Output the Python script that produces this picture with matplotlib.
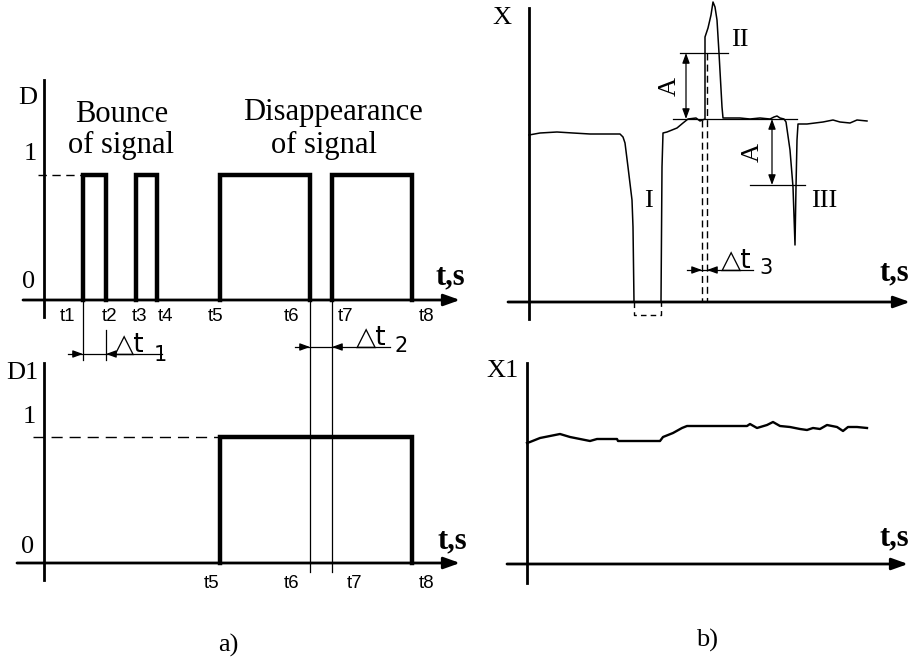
import matplotlib.pyplot as plt
import numpy as np

plt.rcParams['font.family'] = ['Liberation Serif', 'DejaVu Sans']

# ---------- a) discrete signal D and debounced signal D1 ----------
t_names = ['t1', 't2', 't3', 't4', 't5', 't6', 't7', 't8']
t_edges = [3.9, 6.2, 9.2, 11.3, 17.6, 26.6, 28.8, 36.8]
D_pulses = [(0, 1), (2, 3), (4, 5), (6, 7)]      # (rise, fall) edge indices
D1_pulse = (4, 7)
D1_names = ['t5', 't6', 't7', 't8']
high = 1

# ---------- b) analog signal X and filtered X1 ----------
x_time = [0, 1.1, 2.8, 4.4, 6.1, 7.8, 9.1, 9.4, 9.6, 9.9, 10.3, 10.4, 10.5,
          13.2, 13.3, 13.4, 13.8, 14.8, 15.4, 15.9, 16.7, 17.1, 17.6, 17.6,
          17.9, 18.2, 18.4, 18.6, 18.8, 19.0, 19.3, 19.4, 21.1, 22.1, 23.1,
          24.1, 24.5, 24.8, 25.1, 25.5, 25.7, 26.1, 26.4, 26.6, 26.7, 26.8,
          26.9, 27.8, 28.6, 29.4, 30.4, 31.1, 32.1, 32.8, 33.8]
x_value = [16.7, 16.9, 17.0, 16.9, 16.8, 16.8, 16.8, 16.5, 15.9, 13.5, 10.2, 7.5, 0,
           0, 13.5, 16.9, 17.0, 17.4, 17.9, 18.3, 18.4, 18.1, 18.3, 26.5,
           27.4, 28.7, 30.0, 29.5, 28.2, 24.9, 19.5, 18.4, 18.4, 18.3, 18.4,
           18.3, 18.5, 18.6, 18.4, 18.3, 18.0, 15.2, 11.5, 5.7, 11.5, 16.2,
           17.8, 17.8, 17.9, 18.0, 18.2, 18.0, 17.9, 18.2, 18.1]
dropout = (10.5, 13.2)
x_base = 18.3
A = 6.6
dt3 = (17.3, 17.8)

x1_time = [0, 0.3, 1.3, 2.3, 3.3, 4.3, 5.3, 6.3, 7.0, 9.0, 9.1, 13.3, 13.6,
           14.6, 15.5, 16.0, 22.0, 22.3, 23.0, 24.0, 24.6, 25.3, 26.3, 27.3,
           28.0, 28.6, 29.3, 30.0, 31.0, 31.6, 32.1, 33.0, 34.0]
x1_value = [12.1, 12.2, 12.6, 12.8, 13.0, 12.7, 12.5, 12.3, 12.5, 12.5, 12.3, 12.3, 12.7,
            13.1, 13.6, 13.8, 13.8, 14.0, 13.6, 13.9, 14.2, 13.8, 13.7, 13.5,
            13.4, 13.6, 13.5, 13.9, 13.7, 13.3, 13.7, 13.7, 13.6]

W, H = 918, 660
fig = plt.figure(figsize=(W / 100, H / 100), dpi=100)


def panel(px0, py0, sx, sy):
    # full-figure axes whose origin sits at pixel (px0, py0)
    ax = fig.add_axes([0, 0, 1, 1])
    ax.set_xlim(-px0 / sx, (W - px0) / sx)
    ax.set_ylim((py0 - H) / sy, py0 / sy)
    ax.axis('off')
    ax.patch.set_visible(False)
    return ax


def ftext(px, py, s, **kw):
    fig.text(px / W, 1 - py / H, s, **kw)


def draw_axes(ax, x0, x1, y0, y1):
    ax.annotate('', xy=(x1, 0), xytext=(x0, 0),
                arrowprops=dict(arrowstyle='-|>,head_length=0.7,head_width=0.25',
                                lw=2, color='k', shrinkA=0, shrinkB=0,
                                mutation_scale=14))
    ax.plot([0, 0], [y0, y1], color='k', lw=2)


def dim_arrow(ax, x_from, x_to, y, style='-|>'):
    ax.annotate('', xy=(x_to, y), xytext=(x_from, y),
                arrowprops=dict(arrowstyle=style + ',head_length=0.6,head_width=0.22',
                                lw=0.9, color='k', shrinkA=0, shrinkB=0,
                                mutation_scale=10))


def delta_label(ax, x, y, sub, dx, dy):
    ax.text(x, y, '\u25b3t', family='DejaVu Sans', fontsize=19, va='baseline')
    ax.text(x + dx, y + dy, sub, family='DejaVu Sans', fontsize=15, va='baseline')


# ---------- panel a) top: D ----------
axD = panel(44, 300, 10, 125)
draw_axes(axD, -2.1, 41.6, -0.136, 1.76)
for a, b in D_pulses:
    axD.plot([t_edges[a], t_edges[a], t_edges[b], t_edges[b]], [0, high, high, 0],
             color='k', lw=3.2, solid_joinstyle='miter')
axD.plot([-0.6, t_edges[0]], [high, high], color='k', lw=1, dashes=(6, 4))
dx_top = [-1.6, 0.4, 0.4, 0.8, -0.4, -1.8, 1.4, 1.5]
for name, t, dx in zip(t_names, t_edges, dx_top):
    axD.text(t + dx, -0.136, name, family='Liberation Sans', fontsize=13.5,
             ha='center', va='center')
# delta t1
axD.plot([t_edges[0]] * 2, [0, -0.48], color='k', lw=0.9)
axD.plot([t_edges[1]] * 2, [-0.24, -0.48], color='k', lw=0.9)
axD.plot([2.4, 11.8], [-0.432, -0.432], color='k', lw=0.9)
dim_arrow(axD, t_edges[0] - 1.0, t_edges[0], -0.432)
dim_arrow(axD, t_edges[1] + 1.0, t_edges[1], -0.432)
delta_label(axD, 7.0, -0.416, '1', 4.0, -0.07)
# delta t2
axD.plot([25.1, 34.6], [-0.376, -0.376], color='k', lw=0.9)
dim_arrow(axD, t_edges[5] - 1.0, t_edges[5], -0.376)
dim_arrow(axD, t_edges[6] + 1.0, t_edges[6], -0.376)
delta_label(axD, 31.2, -0.36, '2', 3.9, -0.06)

# ---------- panel a) bottom: D1 ----------
axD1 = panel(44, 563, 10, 126)
draw_axes(axD1, -2.7, 41.6, -0.135, 1.587)
a, b = D1_pulse
axD1.plot([t_edges[a], t_edges[a], t_edges[b], t_edges[b]], [0, high, high, 0],
          color='k', lw=3.2, solid_joinstyle='miter')
axD1.plot([-1.1, t_edges[a]], [high, high], color='k', lw=1, dashes=(8, 5))
for t in (t_edges[5], t_edges[6]):
    axD1.plot([t, t], [-0.071, 2.087], color='k', lw=0.9)
dx_bot = [-0.8, -1.8, 2.3, 1.5]
for name, dx in zip(D1_names, dx_bot):
    t = t_edges[t_names.index(name)]
    axD1.text(t + dx, -0.16, name, family='Liberation Sans', fontsize=13.5,
              ha='center', va='center')

# ---------- panel b) top: X ----------
axX = panel(529, 302, 10, 10)
draw_axes(axX, -2.1, 38.1, -1.7, 29.4)
axX.plot(x_time, x_value, color='k', lw=1.1)
axX.plot([dropout[0], dropout[0], dropout[1], dropout[1]], [0, -1.3, -1.3, 0],
         color='k', lw=1, dashes=(4, 3))
axX.plot([dt3[0], dt3[0]], [x_base - 0.1, 0], color='k', lw=1, dashes=(5, 3))
axX.plot([dt3[1], dt3[1]], [x_base + A, 0], color='k', lw=1, dashes=(5, 3))
axX.plot([15.1, 19.9], [x_base + A] * 2, color='k', lw=0.9)
axX.plot([14.4, 26.8], [x_base] * 2, color='k', lw=0.9)
axX.plot([22.1, 27.6], [x_base - A] * 2, color='k', lw=0.9)
axX.annotate('', xy=(15.7, x_base + A), xytext=(15.7, x_base),
             arrowprops=dict(arrowstyle='<|-|>,head_length=0.6,head_width=0.22',
                             lw=0.9, color='k', shrinkA=0, shrinkB=0, mutation_scale=10))
axX.annotate('', xy=(24.3, x_base - A), xytext=(24.3, x_base),
             arrowprops=dict(arrowstyle='<|-|>,head_length=0.6,head_width=0.22',
                             lw=0.9, color='k', shrinkA=0, shrinkB=0, mutation_scale=10))
axX.plot([15.8, 22.4], [3.2, 3.2], color='k', lw=0.9)
dim_arrow(axX, dt3[0] - 0.9, dt3[0], 3.2)
dim_arrow(axX, dt3[1] + 0.9, dt3[1], 3.2)
delta_label(axX, 19.2, 3.4, '3', 3.8, -0.6)
axX.text(14.1, x_base + A / 2, 'A', fontsize=19, rotation=90, ha='center', va='center')
axX.text(22.4, x_base - A / 2, 'A', fontsize=19, rotation=90, ha='center', va='center')
axX.text(11.9, 10.1, 'I', fontsize=19, ha='center', va='center')
axX.text(21.1, 26.2, 'II', fontsize=19, ha='center', va='center')
axX.text(29.5, 10.1, 'III', fontsize=19, ha='center', va='center')

# ---------- panel b) bottom: X1 ----------
axX1 = panel(527, 564, 10, 10)
draw_axes(axX1, -2.0, 38.1, -1.9, 20.1)
axX1.plot(x1_time, x1_value, color='k', lw=1.7)

# ---------- labels ----------
ftext(28, 98, 'D', fontsize=19, ha='center', va='center')
ftext(22, 373, 'D1', fontsize=19, ha='center', va='center')
ftext(30, 154, '1', fontsize=19, ha='center', va='center')
ftext(29, 282, '0', fontsize=19, ha='center', va='center')
ftext(29, 417, '1', fontsize=19, ha='center', va='center')
ftext(28, 547, '0', fontsize=19, ha='center', va='center')
ftext(502, 18, 'X', fontsize=19, ha='center', va='center')
ftext(503, 371, 'X1', fontsize=19, ha='center', va='center')
for px, py in [(436, 284), (437, 548), (880, 280), (880, 545)]:
    ftext(px, py, 't,s', fontsize=22, fontweight='bold', ha='left', va='baseline')
ftext(122, 122, 'Bounce', fontsize=22, ha='center', va='baseline')
ftext(121, 153, 'of signal', fontsize=22, ha='center', va='baseline')
ftext(333, 120, 'Disappearance', fontsize=22, ha='center', va='baseline')
ftext(324, 153, 'of signal', fontsize=22, ha='center', va='baseline')
ftext(228, 645, 'a)', fontsize=19, ha='center', va='center')
ftext(707, 640, 'b)', fontsize=19, ha='center', va='center')

fig.savefig('out.png', dpi=100, facecolor='white')
